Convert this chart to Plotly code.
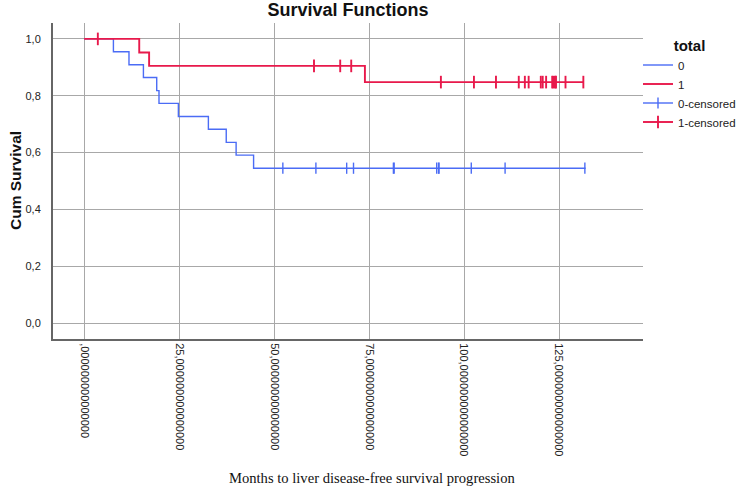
import plotly.graph_objects as go

# ---- data ----
# Group 0 (blue): Kaplan-Meier step points
g0_times = [0, 7.7, 11.8, 15.6, 19.1, 19.7, 24.8, 32.7, 37.4, 40.0, 44.6, 132.0]
g0_surv = [1.0, 0.955, 0.909, 0.864, 0.818, 0.773, 0.727, 0.682, 0.636, 0.591, 0.545, 0.545]
g0_cens_t = [52.3, 61.0, 69.1, 70.9, 81.4, 81.6, 92.8, 93.3, 93.4, 101.9, 110.8, 131.8]
g0_cens_s = [0.545] * len(g0_cens_t)

# Group 1 (red)
g1_times = [0, 14.5, 17.1, 73.9, 131.4]
g1_surv = [1.0, 0.952, 0.905, 0.848, 0.848]
g1_cens_t = [3.6, 60.5, 67.4, 70.3, 93.9, 102.6, 108.4, 114.4, 116.0, 117.0, 120.2,
             120.7, 121.6, 123.2, 123.5, 123.9, 124.2, 126.7, 131.4]
g1_cens_s = [1.0, 0.905, 0.905, 0.905] + [0.848] * 15

x_tickvals = [0, 25, 50, 75, 100, 125]
x_ticktext = [",000000000000000", "25,000000000000000", "50,000000000000000",
              "75,000000000000000", "100,000000000000000", "125,000000000000000"]
y_tickvals = [0.0, 0.2, 0.4, 0.6, 0.8, 1.0]
y_ticktext = ["0,0", "0,2", "0,4", "0,6", "0,8", "1,0"]

BLUE = "#4b6cf5"
RED = "#e8194b"


def gapped(xs, ys):
    gx, gy = [], []
    for a, b in zip(xs, ys):
        gx += [a, None]
        gy += [b, None]
    return gx, gy


fig = go.Figure()
fig.add_trace(go.Scatter(x=g0_times, y=g0_surv, mode="lines", line=dict(color=BLUE, width=1.4, shape="hv"),
                         name="0"))
fig.add_trace(go.Scatter(x=g1_times, y=g1_surv, mode="lines", line=dict(color=RED, width=1.9, shape="hv"),
                         name="1"))
cx, cy = gapped(g0_cens_t, g0_cens_s)
fig.add_trace(go.Scatter(x=cx, y=cy, mode="lines+markers", line=dict(color=BLUE, width=1.4),
                         marker=dict(symbol="line-ns-open", size=8, line=dict(color=BLUE, width=1.4)),
                         name="0-censored"))
cx, cy = gapped(g1_cens_t, g1_cens_s)
fig.add_trace(go.Scatter(x=cx, y=cy, mode="lines+markers", line=dict(color=RED, width=1.9),
                         marker=dict(symbol="line-ns-open", size=9, line=dict(color=RED, width=1.9)),
                         name="1-censored"))

FONT = "Liberation Sans, Arial, sans-serif"

fig.update_layout(
    width=744, height=492,
    margin=dict(l=53, r=101, t=23, b=153, autoexpand=False),
    paper_bgcolor="white", plot_bgcolor="white",
    font=dict(family=FONT, size=11, color="#222"),
    title=dict(text="<b>Survival Functions</b>", x=0.5, xref="paper", y=1 - 10 / 492,
               yanchor="middle", xanchor="center", font=dict(size=18, color="#111")),
    showlegend=True,
    legend=dict(x=1 - 5 / 590, xanchor="left", y=1 - 8 / 316, yanchor="top", bgcolor="rgba(0,0,0,0)",
                title=dict(text="<b>total</b>", side="top center", font=dict(size=15, color="#111")),
                font=dict(size=11.5, color="#222"), itemwidth=30, tracegroupgap=0),
    xaxis=dict(range=[-8.2, 147.1], tickvals=x_tickvals, ticktext=x_ticktext, tickangle=90,
               showgrid=True, gridcolor="#a8a8a8", gridwidth=1, zeroline=False,
               showline=True, linecolor="#666", linewidth=2, ticks="", tickfont=dict(size=11, color="#222")),
    yaxis=dict(range=[-0.056, 1.056], tickvals=y_tickvals, ticktext=y_ticktext,
               showgrid=True, gridcolor="#a8a8a8", gridwidth=1, zeroline=False,
               showline=True, linecolor="#666", linewidth=2, ticks="outside", ticklen=8,
               tickcolor="rgba(0,0,0,0)", tickfont=dict(size=11, color="#222")),
    annotations=[
        dict(text="<b>Cum Survival</b>", xref="paper", yref="paper", x=(15 - 53) / 590, y=0.5,
             xanchor="center", yanchor="middle", textangle=-90, showarrow=False,
             font=dict(size=15.5, color="#111", family=FONT)),
        dict(text="Months to liver disease-free survival progression", xref="paper", yref="paper",
             x=(372 - 53) / 590, y=-(478 - 339) / 316, xanchor="center", yanchor="middle",
             showarrow=False, font=dict(size=14.6, color="#111", family="Liberation Serif, Times New Roman, serif")),
    ],
)

fig.write_html("out.html")
